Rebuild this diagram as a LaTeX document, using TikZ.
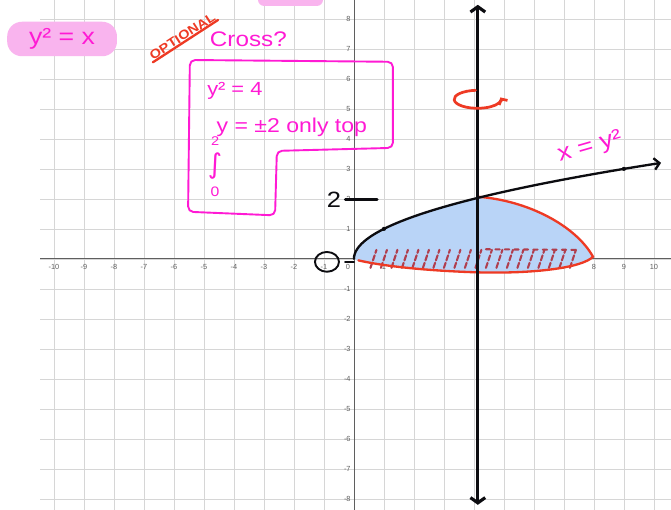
\documentclass[tikz,border=0pt]{standalone}
\usepackage{fontspec}
\setsansfont{Liberation Sans}
\newfontfamily\handfont[FakeStretch=1.15]{Liberation Sans}
\newfontfamily\glyphfont{DejaVu Sans}
\usetikzlibrary{arrows.meta, calc, shapes.geometric}
\definecolor{gridGray}{RGB}{214,214,214}
\definecolor{axisGray}{RGB}{95,95,95}
\definecolor{hlPink}{RGB}{249,180,238}
\definecolor{inkMagenta}{RGB}{255,26,212}
\definecolor{inkRed}{RGB}{238,58,36}
\definecolor{inkBlack}{RGB}{12,12,16}
\definecolor{fillBlue}{RGB}{185,212,247}
\definecolor{hatchRed}{RGB}{176,62,78}
\tikzset{
  gridline/.style={gridGray, line width=0.6pt},
  axisline/.style={axisGray, line width=0.8pt},
  ticklabel/.style={font=\sffamily\fontsize{7}{7}\selectfont, text=axisGray, inner sep=1pt},
  handtext/.style={font=\handfont\fontsize{18}{18}\selectfont, inner sep=0pt},
  pinkink/.style={inkMagenta, line width=1.8pt, line join=round, line cap=round},
  redink/.style={inkRed, line width=2.2pt, line cap=round},
  blackink/.style={inkBlack, line width=2.2pt, line cap=round},
  rotaxis/.style={inkBlack, line width=3pt,
    {Straight Barb[length=5pt,width=14pt]}-{Straight Barb[length=5pt,width=14pt]}},
  hatchstroke/.style={hatchRed, line width=2pt, line cap=round},
}

\begin{document}
\begin{tikzpicture}

\useasboundingbox (-11.8,-8.37) rectangle (10.57,8.63);
\fill[white] (-11.8,-8.37) rectangle (10.57,8.63);

%% GRID
\foreach \x in {-10,...,10} \draw[gridline] (\x,-8.37) -- (\x,8.63);
\foreach \y in {-8,...,8} \draw[gridline] (-10.45,\y) -- (10.57,\y);
\draw[axisline] (-10.45,0) -- (10.57,0);
\draw[axisline] (0,-8.37) -- (0,8.63);
\coordinate (origin) at (0,0);

%% TICK LABELS
\foreach \x in {-10,...,-1,1,2,...,10}
  \node[ticklabel] (xlab\x) at (\x,-0.27) {\x};
\foreach \y in {-8,...,-1,1,2,...,8}
  \node[ticklabel, anchor=east] (ylab\y) at (-0.07,\y) {\y};
\node[ticklabel] (zerolab) at (-0.2,-0.27) {0};

%% SHADED REGION
\fill[fillBlue] plot[domain=0.08:2.03, smooth, samples=30, variable=\t] ({\t*\t},\t)
  .. controls (5.8,1.95) and (7.4,1.1) .. (7.97,0.07)
  .. controls (7.6,-0.3) and (6,-0.5) .. (4.13,-0.45)
  .. controls (2.5,-0.4) and (1,-0.25) .. (0.08,-0.05) -- cycle;

%% hatching along the axis
\foreach \x in {0.55,0.9,...,7.4}
  \draw[hatchstroke, dash pattern=on 5pt off 2.5pt] (\x,-0.3) -- ++(0.2,0.6);
\draw[hatchstroke, dash pattern=on 4pt off 5pt] (4.4,0.32) -- (7.5,0.3);

%% BOUNDARY CURVES
\draw[redink] (4.13,2.07) .. controls (5.8,1.95) and (7.4,1.1) .. (7.97,0.07)
  .. controls (7.6,-0.3) and (6,-0.5) .. (4.13,-0.45)
  .. controls (2.5,-0.4) and (1,-0.25) .. (0.15,-0.05);
\draw[blackink, -{Straight Barb[length=5pt,width=11pt]}]
  plot[domain=0:3.2, smooth, samples=40, variable=\t] ({\t*\t},\t);
\fill[inkBlack] (1,1) circle (2pt);
\fill[inkBlack] (9,3) circle (2pt);

%% AXIS OF ROTATION
\draw[rotaxis] (4.13,-8.2) -- (4.13,8.47);
\draw[redink, line width=2.6pt, -{Straight Barb[length=4pt,width=9pt]}] (4.12,5.32) ++(95:0.78cm and 0.3cm)
  arc[start angle=95, end angle=372, x radius=0.78, y radius=0.3];

%% BLACK MARKS
\node[handtext, text=inkBlack, font=\handfont\fontsize{21}{21}\selectfont] (twolbl) at (-0.67,1.97) {2};
\coordinate (twotick) at (0.77,1.97);
\draw[blackink, line width=2.8pt] ([xshift=4pt]twolbl.east) -- (twotick);
\node[ellipse, draw=inkBlack, line width=1.8pt, minimum width=0.8cm, minimum height=0.66cm,
  inner sep=0pt] (zerolbl) at (-0.9,-0.1) {};
\draw[blackink] ([xshift=5pt]zerolbl.east) -- (zerolbl.east -| origin);

%% PINK NOTES
\node[fill=hlPink, rounded corners=14pt, minimum width=3.66cm, minimum height=1.15cm,
  handtext, font=\handfont\fontsize{22}{22}\selectfont, text=inkMagenta] (eqlbl) at (-9.73,7.33) {y² = x};
\fill[hlPink, rounded corners=6pt] (-3.2,8.43) rectangle (-1.03,9.1);

\node[font=\handfont\bfseries\fontsize{12}{12}\selectfont, text=inkRed, rotate=33,
  inner sep=1pt] (optlbl) at (-5.72,7.42) {OPTIONAL};
\draw[redink] (optlbl.south west) -- (optlbl.south east);

\node[handtext, font=\handfont\fontsize{20}{20}\selectfont, text=inkMagenta] (crosslbl) at (-3.52,7.33) {Cross?};

\draw[pinkink, rounded corners=5pt] (-5.47,6.63) -- (1.3,6.57) -- (1.3,3.7)
  -- (-2.57,3.6) -- (-2.63,1.45) -- (-5.53,1.57) -- cycle;
\node[handtext, text=inkMagenta] (ysqlbl) at (-3.97,5.6) {y² = 4};
\node[handtext, text=inkMagenta, font=\handfont\fontsize{19}{19}\selectfont] (rootlbl) at (-2.07,4.4) {y = ±2 only top};
\node[text=inkMagenta, font=\handfont\fontsize{12}{12}\selectfont, inner sep=0pt] (intupper) at (-4.63,3.92) {2};
\node[text=inkMagenta, font=\glyphfont\fontsize{26}{26}\selectfont, inner sep=0pt] (intsign) at (-4.63,3.1) {∫};
\node[text=inkMagenta, font=\handfont\fontsize{13}{13}\selectfont, inner sep=0pt] (intlower) at (-4.63,2.25) {0};

\node[handtext, font=\handfont\fontsize{22}{22}\selectfont, text=inkMagenta, rotate=16] (curvelbl) at (7.87,3.72) {x = y²};

\end{tikzpicture}
\end{document}
